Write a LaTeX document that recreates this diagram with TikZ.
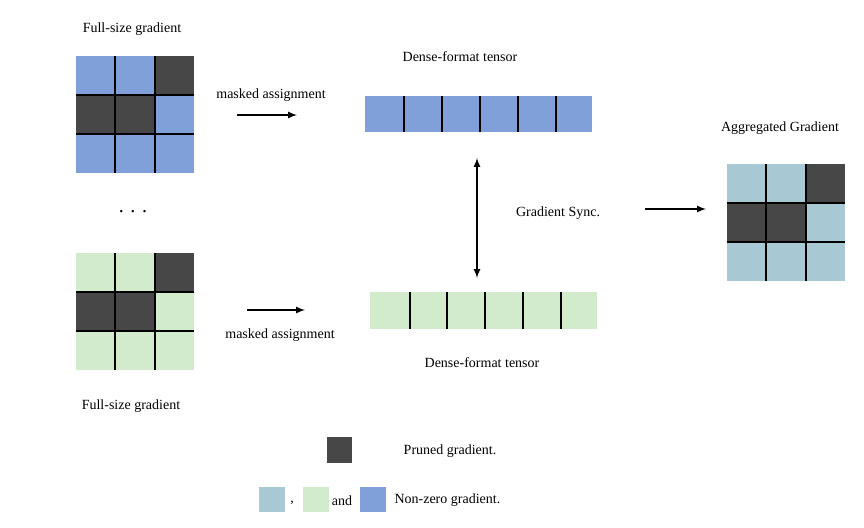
\documentclass[tikz,border=0pt]{standalone}
\usepackage{fontspec}
\setmainfont{Liberation Serif}
\begin{document}
\begin{tikzpicture}[x=1pt,y=-1pt,
  lbl/.style={font=\fontsize{14}{16}\selectfont},
  grid/.style={line width=2.2pt,black},
  arr/.style={-latex,line width=2pt}]
\definecolor{bl}{HTML}{7FA0D8}
\definecolor{gr}{HTML}{D3EBCD}
\definecolor{te}{HTML}{A8C8D3}
\definecolor{dk}{HTML}{474747}
\useasboundingbox (0,0) rectangle (864,527);
% 3x3 grid macro
\newcommand{\mygrid}[4]{% x y color name
  \begin{scope}[shift={(#1,#2)}]
   \foreach \c/\i/\j in {#3/0/0,#3/1/0,dk/2/0,dk/0/1,dk/1/1,#3/2/1,#3/0/2,#3/1/2,#3/2/2}
     \fill[\c] (\i*39.3,\j*39) rectangle ++(39.3,39);
   \draw[grid] (39.3,0) -- (39.3,117) (78.6,0) -- (78.6,117) (0,39) -- (118,39) (0,78) -- (118,78);
   \coordinate (#4) at (59,58.5);
  \end{scope}}
\mygrid{76}{56}{bl}{g1}
\mygrid{76}{253}{gr}{g2}
\mygrid{727}{164}{te}{g3}
% dense tensors
\fill[bl] (365,96) rectangle (592,132);
\foreach \x in {404,442,480,518,556} \draw[grid] (\x,96) -- (\x,132);
\fill[gr] (370,292) rectangle (597,329);
\foreach \x in {410,447,485,523,561} \draw[grid] (\x,292) -- (\x,329);
\node[lbl] (t1) at (132,29) {Full-size gradient};
\node[lbl] (t2) at (271,95) {masked assignment};
\node[lbl] (t3) at (460,57) {Dense-format tensor};
\node[lbl] (t4) at (780,128) {Aggregated Gradient};
\node[font=\fontsize{20}{20}\selectfont] (dots) at (133,212) {. . .};
\node[lbl] (t5) at (558,213) {Gradient Sync.};
\node[lbl] (t6) at (280,335) {masked assignment};
\node[lbl] (t7) at (482,363) {Dense-format tensor};
\node[lbl] (t8) at (131,406) {Full-size gradient};
\coordinate (a1) at (237,115); \coordinate (b1) at (297,115);
\coordinate (a2) at (247,310); \coordinate (b2) at (305,310);
\coordinate (a3) at (477,158); \coordinate (b3) at (477,278);
\coordinate (a4) at (645,209); \coordinate (b4) at (706,209);
\draw[arr] (a1) -- (b1);
\draw[arr] (a2) -- (b2);
\draw[latex-latex,line width=2pt] (a3) -- (b3);
\draw[arr] (a4) -- (b4);
% legend
\fill[dk] (327,437) rectangle (352,463);
\node[lbl] (l1) at (450,451) {Pruned gradient.};
\fill[te] (259,487) rectangle (285,512);
\node[lbl] (cm) at (292,503) {,};
\fill[gr] (303,487) rectangle (329,512);
\node[lbl] (and) at (342,501) {and};
\fill[bl] (360,487) rectangle (386,512);
\node[lbl,anchor=west] (l2) at (391,500) {Non-zero gradient.};
\end{tikzpicture}
\end{document}
